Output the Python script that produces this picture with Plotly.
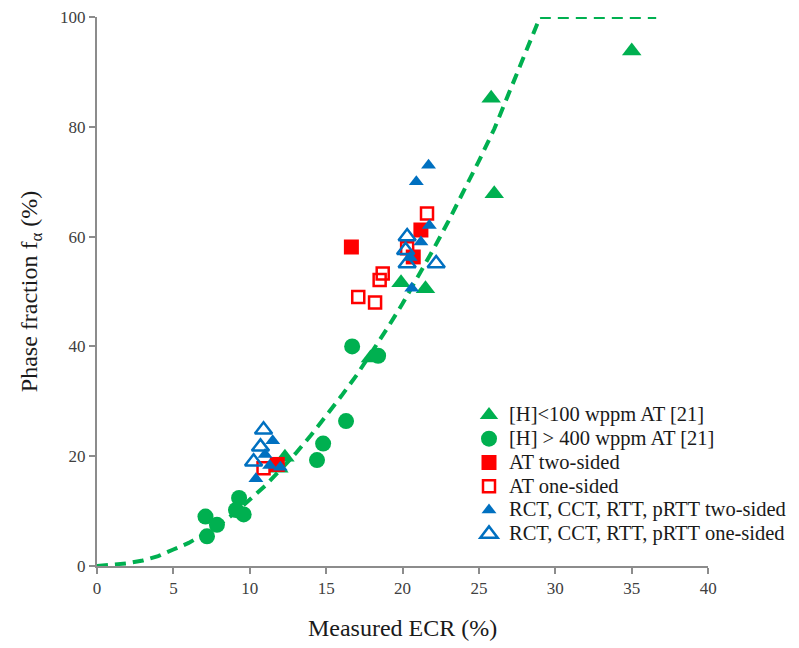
import plotly.graph_objects as go

# Dashed trend line
curve_x = [0, 2, 3, 4, 5, 6, 7, 8, 9, 10, 11, 12, 13, 14, 15, 16, 17, 18, 19, 20, 21, 22, 23, 24, 25, 26, 27, 28, 29, 36.6]
curve_y = [0, 0.5, 1, 1.8, 3, 4.2, 5.8, 7.5, 9.6, 12, 14.6, 17.5, 20.5, 23.8, 27.3, 31, 34.8, 38.9, 43.3, 47.8, 52.6, 57.6, 62.8, 68.2, 73.8, 79.6, 86.5, 93.2, 100, 100]

# [H]<100 wppm AT [21]
gt_x = [35.0, 25.8, 26.0, 19.9, 21.5, 12.3, 11.9, 17.9]
gt_y = [93.8, 85.2, 67.8, 51.6, 50.5, 19.8, 17.8, 37.9]

# [H] > 400 wppm AT [21]
gc_x = [7.1, 7.85, 7.2, 9.3, 9.1, 9.6, 14.8, 14.4, 16.3, 16.7, 18.4]
gc_y = [9.0, 7.5, 5.4, 12.4, 10.2, 9.4, 22.3, 19.3, 26.4, 40.0, 38.3]

# AT two-sided
rs_x = [16.65, 21.2, 20.7, 11.8]
rs_y = [58.1, 61.2, 56.3, 18.5]

# AT one-sided
ro_x = [21.6, 20.3, 18.7, 18.5, 17.1, 18.2, 10.9]
ro_y = [64.2, 57.9, 53.3, 52.1, 49.0, 48.0, 17.8]

# RCT, CCT, RTT, pRTT two-sided
bt_x = [21.7, 20.9, 21.75, 21.2, 20.5, 20.6, 10.4, 11.5, 11.3, 12.0, 11.0]
bt_y = [73.0, 70.0, 62.0, 59.0, 56.2, 50.6, 15.9, 22.8, 18.3, 18.0, 20.3]

# RCT, CCT, RTT, pRTT one-sided
bo_x = [20.3, 20.3, 22.2, 20.2, 10.9, 10.7, 10.25]
bo_y = [60.0, 55.1, 55.1, 57.5, 24.8, 21.7, 19.0]

series_names = ["[H]<100 wppm AT [21]", "[H] > 400 wppm AT [21]", "AT two-sided",
                "AT one-sided", "RCT, CCT, RTT, pRTT two-sided", "RCT, CCT, RTT, pRTT one-sided"]

GREEN = "#00B050"
RED = "#FF0000"
BLUE = "#0070C0"
SERIF = "Liberation Serif, Times New Roman, serif"


def lg(name):
    return '<span style="font-size:20.5px">' + name + '</span>'


fig = go.Figure()
fig.add_trace(go.Scatter(x=curve_x, y=curve_y, mode="lines", showlegend=False,
                         line=dict(color=GREEN, width=4, dash="11px,7px")))
fig.add_trace(go.Scatter(x=gt_x, y=gt_y, mode="markers", name=lg(series_names[0]),
                         marker=dict(symbol="triangle-up", size=17, color=GREEN, line=dict(width=0))))
fig.add_trace(go.Scatter(x=gc_x, y=gc_y, mode="markers", name=lg(series_names[1]),
                         marker=dict(symbol="circle", size=16, color=GREEN, line=dict(width=0))))
fig.add_trace(go.Scatter(x=rs_x, y=rs_y, mode="markers", name=lg(series_names[2]),
                         marker=dict(symbol="square", size=15, color=RED, line=dict(width=0))))
fig.add_trace(go.Scatter(x=ro_x, y=ro_y, mode="markers", name=lg(series_names[3]),
                         marker=dict(symbol="square-open", size=12, color=RED, line=dict(width=2.5, color=RED))))
fig.add_trace(go.Scatter(x=bt_x, y=bt_y, mode="markers", name=lg(series_names[4]),
                         marker=dict(symbol="triangle-up", size=13, color=BLUE, line=dict(width=0))))
fig.add_trace(go.Scatter(x=bo_x, y=bo_y, mode="markers", name=lg(series_names[5]),
                         marker=dict(symbol="triangle-up-open", size=15, color=BLUE, line=dict(width=2.5, color=BLUE))))

axis_common = dict(showgrid=False, zeroline=False, showline=True, linecolor="#8c8c8c", linewidth=2,
                   ticks="outside", ticklen=6, tickwidth=1.5, tickcolor="#8c8c8c",
                   tickfont=dict(family=SERIF, size=17, color="#404040"))

fig.update_layout(
    width=799, height=648,
    margin=dict(l=97, r=0, t=17, b=82),
    paper_bgcolor="white", plot_bgcolor="white",
    font=dict(family=SERIF),
    xaxis=dict(range=[0, 40], domain=[0, 0.8806], tickmode="array", tickvals=[0, 5, 10, 15, 20, 25, 30, 35, 40],
               title=dict(text="Measured ECR (%)", font=dict(family=SERIF, size=24, color="#1a1a1a"), standoff=22),
               **axis_common),
    yaxis=dict(range=[0, 100], tickmode="array", tickvals=[0, 20, 40, 60, 80, 100],
               title=dict(text="Phase fraction f<sub>α</sub> (%)", font=dict(family=SERIF, size=24, color="#1a1a1a"), standoff=16),
               **axis_common),
    legend=dict(x=1.0, y=0.306, xanchor="right", yanchor="top", bgcolor="rgba(0,0,0,0)",
                font=dict(family=SERIF, size=16, color="#1a1a1a"), tracegroupgap=0),
)

fig.write_html("out.html")
